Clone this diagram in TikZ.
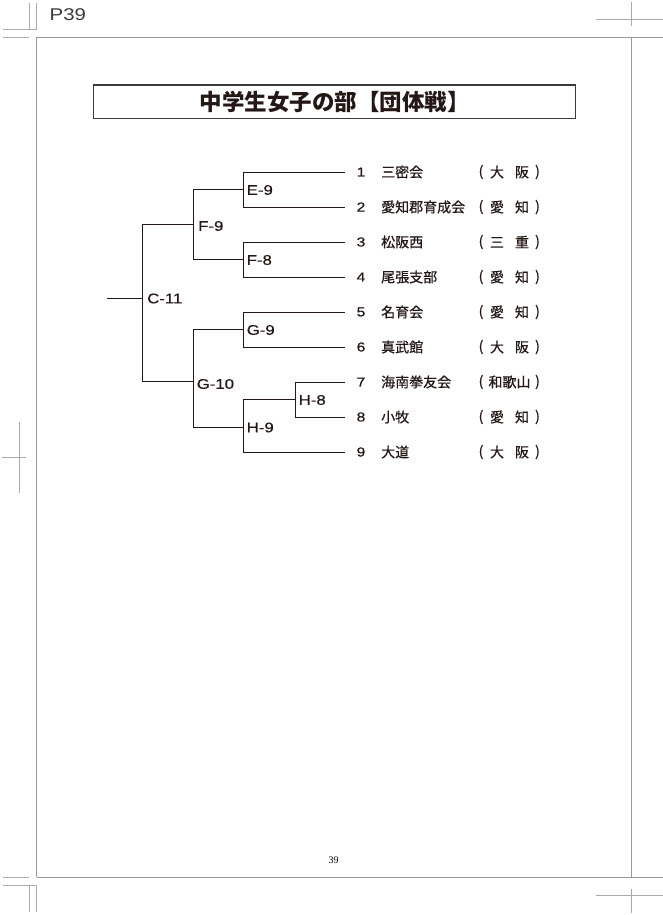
\documentclass[tikz,border=0pt]{standalone}
\usepackage{fontspec}
\newfontfamily\jp[FakeBold=0.6]{Noto Sans CJK JP}
\newfontfamily\jpt{Noto Sans CJK JP}
\newfontfamily\lat[FakeStretch=1.2,FakeBold=0.5]{Liberation Sans}
\newfontfamily\latp[FakeStretch=1.2]{Liberation Sans}
\newfontfamily\ser{Liberation Serif}
\definecolor{markc}{HTML}{ABABAB}
\definecolor{framec}{HTML}{9A9A9A}
\definecolor{ink}{HTML}{231815}
\definecolor{boxc}{HTML}{3A3A3A}
\begin{document}
\begin{tikzpicture}[x=1pt,y=-1pt,
  crop/.style={draw=markc,line width=0.6pt},
  frm/.style={draw=framec,line width=0.7pt},
  br/.style={draw=ink,line width=0.85pt},
  mlab/.style={anchor=west,inner sep=0pt,font=\lat\fontsize{14}{14}\selectfont,text=ink},
  num/.style={inner sep=0pt,font=\lat\fontsize{13}{13}\selectfont,text=ink},
  team/.style={anchor=west,inner sep=0pt,font=\jp\fontsize{14}{14}\selectfont,text=ink},
  pref/.style={inner sep=0pt,font=\jp\fontsize{14}{14}\selectfont,text=ink},
]
\useasboundingbox (0,0) rectangle (663,915);
\fill[white] (0,0) rectangle (663,915);

% ---------- crop marks ----------
\coordinate (tl1) at (3.3,29.3);  \coordinate (tl2) at (36.7,29.3);
\coordinate (tl3) at (29.3,3.3);  \coordinate (tl4) at (29.3,29.3);
\coordinate (tl5) at (36.7,3.3);  \coordinate (tl6) at (36.7,29.3);
\coordinate (tl7) at (3.3,37.7);  \coordinate (tl8) at (29.3,37.7);
\draw[crop] (tl1) -- (tl2);
\draw[crop] (tl3) -- (tl4);
\draw[crop] (tl5) -- (tl6);
\draw[crop] (tl7) -- (tl8);
\coordinate (bl1) at (3.3,885);   \coordinate (bl2) at (36.7,885);
\coordinate (bl3) at (29.3,885);  \coordinate (bl4) at (29.3,911.7);
\coordinate (bl5) at (36.7,885);  \coordinate (bl6) at (36.7,911.7);
\coordinate (bl7) at (3.3,877.3); \coordinate (bl8) at (29.3,877.3);
\draw[crop] (bl1) -- (bl2);
\draw[crop] (bl3) -- (bl4);
\draw[crop] (bl5) -- (bl6);
\draw[crop] (bl7) -- (bl8);
\coordinate (lm1) at (1.7,457.3);  \coordinate (lm2) at (25.7,457.3);
\coordinate (lm3) at (19.3,421.7); \coordinate (lm4) at (19.3,493.3);
\draw[crop] (lm1) -- (lm2);
\draw[crop] (lm3) -- (lm4);
\coordinate (tr1) at (595.7,19.3); \coordinate (tr2) at (663,19.3);
\coordinate (tr3) at (631.7,1.7);  \coordinate (tr4) at (631.7,26);
\draw[crop] (tr1) -- (tr2);
\draw[crop] (tr3) -- (tr4);
\coordinate (br1) at (595.7,895.5); \coordinate (br2) at (663,895.5);
\coordinate (br3) at (631.7,888.5); \coordinate (br4) at (631.7,913.3);
\draw[crop] (br1) -- (br2);
\draw[crop] (br3) -- (br4);

% ---------- page frame ----------
\coordinate (fa) at (36.7,37.7);  \coordinate (fb) at (631.7,37.7);
\coordinate (fc) at (631.7,877.3); \coordinate (fd) at (36.7,877.3);
\coordinate (fe) at (663,37.7);   \coordinate (ff) at (663,877.3);
\draw[frm] (fd) -- (fa) -- (fe);
\draw[frm] (fd) -- (ff);
\draw[frm] (fb) -- (fc);

\node[anchor=west,inner sep=0pt,text=boxc,font=\latp\fontsize{17}{17}\selectfont] (plabel) at (49.5,14.8) {P39};
\node[inner sep=0pt,text=black,font=\ser\fontsize{10}{10}\selectfont] (pageno) at (333.5,860) {39};

% ---------- title ----------
\node[draw=boxc,line width=1.3pt,minimum width=482.4pt,minimum height=33.3pt,inner sep=0pt] (titlebox) at (334.5,101.7) {};
\node[inner sep=0pt,text=ink,font=\jpt\bfseries\fontsize{22.5}{22.5}\selectfont] (title) at (334.8,102) {中学生女子の部【団体戦】};

% ---------- leaves ----------
\foreach \i/\nm/\pr [evaluate=\i as \yy using 172+35*(\i-1)] in
  {1/三密会/{大\hspace{11pt}阪},
   2/愛知郡育成会/{愛\hspace{11pt}知},
   3/松阪西/{三\hspace{11pt}重},
   4/尾張支部/{愛\hspace{11pt}知},
   5/名育会/{愛\hspace{11pt}知},
   6/真武館/{大\hspace{11pt}阪},
   7/海南拳友会/{和歌山},
   8/小牧/{愛\hspace{11pt}知},
   9/大道/{大\hspace{11pt}阪}} {
  \coordinate (l\i) at (345,\yy);
  \node[num] (n\i) at (361,\yy) {\i};
  \node[team] (t\i) at (381,\yy) {\nm};
  \node[pref] (lp\i) at (481,\yy) {(};
  \node[pref] (pf\i) at (509.5,\yy) {\pr};
  \node[pref] (rp\i) at (537.5,\yy) {)};
}

% ---------- bracket junctions ----------
\coordinate (E9t) at (243,172);   \coordinate (E9b) at (243,207);   \coordinate (E9) at (243,189.5);
\coordinate (F8t) at (243,242);   \coordinate (F8b) at (243,277);   \coordinate (F8) at (243,259.5);
\coordinate (G9t) at (243,312);   \coordinate (G9b) at (243,347);   \coordinate (G9) at (243,329.5);
\coordinate (H8t) at (295,382);   \coordinate (H8b) at (295,417);   \coordinate (H8) at (295,399.5);
\coordinate (H9t) at (243,399.5); \coordinate (H9b) at (243,452);   \coordinate (H9) at (243,427);
\coordinate (F9t) at (193,189.5); \coordinate (F9b) at (193,259.5); \coordinate (F9) at (193,224.5);
\coordinate (G10t) at (193,329.5);\coordinate (G10b) at (193,427);  \coordinate (G10) at (193,381);
\coordinate (C11t) at (142,224.5);\coordinate (C11b) at (142,381);  \coordinate (C11) at (142,298);
\coordinate (root) at (107,298);

\draw[br] (l1) -- (E9t) -- (E9b) -- (l2);
\draw[br] (l3) -- (F8t) -- (F8b) -- (l4);
\draw[br] (l5) -- (G9t) -- (G9b) -- (l6);
\draw[br] (l7) -- (H8t) -- (H8b) -- (l8);
\draw[br] (H8) -- (H9t) -- (H9b) -- (l9);
\draw[br] (E9) -- (F9t) -- (F9b) -- (F8);
\draw[br] (G9) -- (G10t) -- (G10b) -- (H9);
\draw[br] (F9) -- (C11t) -- (C11b) -- (G10);
\draw[br] (root) -- (C11);

% ---------- match labels ----------
\node[mlab] (lE9) at (246.5,190) {E-9};
\node[mlab] (lF8) at (246.5,260) {F-8};
\node[mlab] (lG9) at (246.5,330) {G-9};
\node[mlab] (lH8) at (298.5,400) {H-8};
\node[mlab] (lH9) at (246.5,427.5) {H-9};
\node[mlab] (lF9) at (198,226) {F-9};
\node[mlab] (lG10) at (196.5,384) {G-10};
\node[mlab] (lC11) at (147,298.5) {C-11};
\end{tikzpicture}
\end{document}
